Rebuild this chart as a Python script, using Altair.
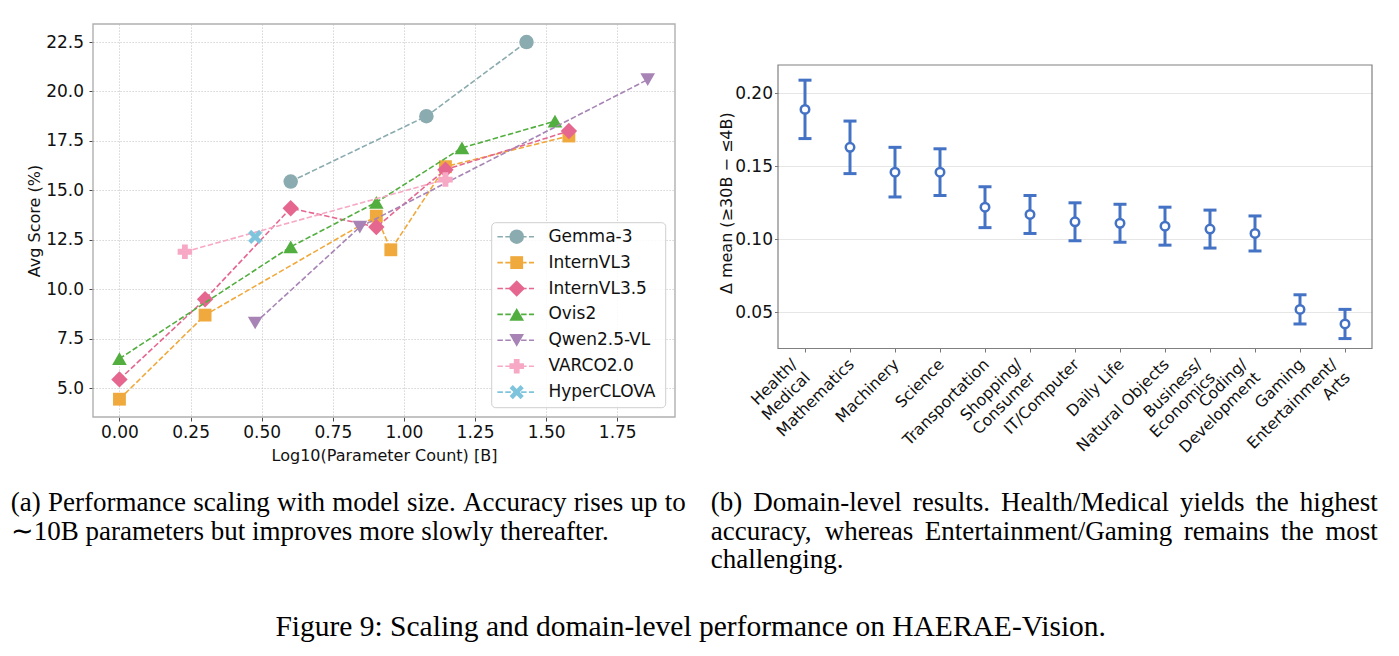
import altair as alt
import pandas as pd

# ------------------------------------------------------------------ data (left panel)
models = ["Gemma-3", "InternVL3", "InternVL3.5", "Ovis2", "Qwen2.5-VL", "VARCO2.0", "HyperCLOVA"]

gemma3_x = [0.602, 1.079, 1.431]
gemma3_y = [15.45, 18.75, 22.5]
internvl3_x = [0.0, 0.301, 0.903, 0.954, 1.146, 1.580]
internvl3_y = [4.45, 8.7, 13.7, 12.0, 16.2, 17.75]
internvl35_x = [0.0, 0.301, 0.602, 0.903, 1.146, 1.580]
internvl35_y = [5.45, 9.5, 14.1, 13.15, 16.05, 18.0]
ovis2_x = [0.0, 0.602, 0.903, 1.204, 1.531]
ovis2_y = [6.5, 12.15, 14.4, 17.15, 18.5]
qwen25vl_x = [0.477, 0.845, 1.857]
qwen25vl_y = [8.3, 13.15, 20.6]
varco_x = [0.230, 1.146]
varco_y = [11.9, 15.55]
hyperclova_x = [0.477]
hyperclova_y = [12.65]

x_ticks = [0.0, 0.25, 0.5, 0.75, 1.0, 1.25, 1.5, 1.75]
y_ticks = [5.0, 7.5, 10.0, 12.5, 15.0, 17.5, 20.0, 22.5]

# ------------------------------------------------------------------ data (right panel)
domains = ["Health/\nMedical", "Mathematics", "Machinery", "Science", "Transportation",
           "Shopping/\nConsumer", "IT/Computer", "Daily Life", "Natural Objects",
           "Business/\nEconomics", "Coding/\nDevelopment", "Gaming", "Entertainment/\nArts"]
delta_mean = [0.189, 0.163, 0.146, 0.146, 0.122, 0.117, 0.112, 0.111, 0.109, 0.107, 0.104, 0.052, 0.042]
ci_low = [0.169, 0.145, 0.129, 0.130, 0.108, 0.104, 0.099, 0.098, 0.096, 0.094, 0.092, 0.042, 0.032]
ci_high = [0.209, 0.181, 0.163, 0.162, 0.136, 0.130, 0.125, 0.124, 0.122, 0.120, 0.116, 0.062, 0.052]
r_ticks = [0.05, 0.10, 0.15, 0.20]

# ------------------------------------------------------------------ captions
cap_a = ["(a) Performance scaling with model size. Accuracy rises up to",
         "\u223c10B parameters but improves more slowly thereafter."]
cap_b = ["(b) Domain-level results.  Health/Medical yields the highest",
         "accuracy, whereas Entertainment/Gaming remains the most",
         "challenging."]
fig_caption = "Figure 9: Scaling and domain-level performance on HAERAE-Vision."

# ------------------------------------------------------------------ styles
COLORS = ["#8aabaf", "#f0a93c", "#e5678f", "#52ae3f", "#a784b5", "#f6a8c4", "#7fc4dd"]
XPATH = "M-1,-0.55L-0.55,-1L0,-0.45L0.55,-1L1,-0.55L0.45,0L1,0.55L0.55,1L0,0.45L-0.55,1L-1,0.55L-0.45,0Z"
SHAPES = ["circle", "square", "diamond", "triangle-up", "triangle-down", "cross", XPATH]
SIZES = [210, 165, 270, 215, 215, 210, 200]
BLUE = "#4472c4"
FONT = "DejaVu Sans"
SERIF = "Liberation Serif"
INK = "#111111"

W1, H1 = 582, 393
W2, H2 = 594, 324.5
TOP2 = 41

CAP_FS = 27
FIG_FS = 29.5

TIMES = {" ": 250, "(": 333, ")": 333, ",": 250, "-": 333, ".": 250, "/": 278, ":": 278}
TIMES.update({d: 500 for d in "0123456789"})
TIMES.update(dict(zip("ABCDEFGHIJKLMNOPQRSTUVWXYZ",
                      [722, 667, 667, 722, 611, 556, 722, 722, 333, 389, 722, 611, 889, 722, 722,
                       556, 722, 667, 556, 611, 722, 722, 944, 722, 722, 611])))
TIMES.update(dict(zip("abcdefghijklmnopqrstuvwxyz",
                      [444, 500, 444, 500, 444, 333, 500, 500, 278, 278, 500, 278, 778, 500, 500,
                       500, 500, 333, 389, 278, 500, 500, 722, 500, 500, 444])))


def tw(s, fs):
    return sum(TIMES.get(c, 500) for c in s) / 1000.0 * fs


def paragraph(lines, x0, width, y0, lh, fs):
    rows = []
    for k, line in enumerate(lines):
        y = y0 + k * lh
        if k == len(lines) - 1:
            rows.append({"t": line, "px": x0, "py": y})
            continue
        words = line.split()
        ws = [tw(w, fs) for w in words]
        gap = (width - sum(ws)) / (len(words) - 1)
        x = x0
        for w, wd in zip(words, ws):
            rows.append({"t": w, "px": x, "py": y})
            x += wd + gap
    return pd.DataFrame(rows)


one = pd.DataFrame({"k": [0]})

# ------------------------------------------------------------------ left panel
xs1 = alt.Scale(domain=[-0.093, 1.953], nice=False, zero=False)
ys1 = alt.Scale(domain=[3.55, 23.41], nice=False, zero=False)

common_axis = dict(grid=True, gridColor="#bdbdbd", gridDash=[1.2, 1.8], gridWidth=0.8,
                   domain=False, tickSize=4, tickColor="#333333", tickWidth=0.9,
                   labelFont=FONT, labelFontSize=17, labelColor=INK, labelFlush=False,
                   titleFont=FONT, titleFontSize=16, titleFontWeight="normal", titleColor=INK)
ax_x1 = alt.Axis(values=x_ticks, format=".2f", title="Log10(Parameter Count) [B]",
                 labelPadding=3, titleY=30, titleBaseline="top", **common_axis)
ax_y1 = alt.Axis(values=y_ticks, format=".1f", title="Avg Score (%)", labelPadding=5.5,
                 titleX=-50.5, titleY=H1 / 2, titleAngle=270, titleAlign="center",
                 titleBaseline="bottom", **common_axis)

series = [(gemma3_x, gemma3_y), (internvl3_x, internvl3_y), (internvl35_x, internvl35_y),
          (ovis2_x, ovis2_y), (qwen25vl_x, qwen25vl_y), (varco_x, varco_y),
          (hyperclova_x, hyperclova_y)]

left_layers = []
for i, (m, (xv, yv)) in enumerate(zip(models, series)):
    d = pd.DataFrame({"x": xv, "y": yv, "model": m})
    enc = dict(x=alt.X("x:Q", scale=xs1, axis=ax_x1), y=alt.Y("y:Q", scale=ys1, axis=ax_y1))
    if len(xv) > 1:
        left_layers.append(alt.Chart(d).mark_line(color=COLORS[i], strokeDash=[5.5, 2.4],
                                                  strokeWidth=1.6).encode(**enc))
    left_layers.append(alt.Chart(d).mark_point(shape=SHAPES[i], filled=True, color=COLORS[i],
                                               size=SIZES[i], opacity=1).encode(**enc))

# legend (inside plot, lower right)
LEG_X0, LEG_X1, LEG_Y0, LEG_Y1 = 398.7, 572.7, 198.7, 383.7
LEG_ROW0, LEG_STEP = 212.7, 25.9
left_layers.append(
    alt.Chart(one).mark_rect(fill="white", fillOpacity=0.85, stroke="#cfcfcf", strokeWidth=1,
                             cornerRadius=4)
    .encode(x=alt.value(LEG_X0), x2=alt.value(LEG_X1), y=alt.value(LEG_Y0), y2=alt.value(LEG_Y1)))
for i, m in enumerate(models):
    py = LEG_ROW0 + LEG_STEP * i
    dm = pd.DataFrame({"model": [m]})
    left_layers.append(alt.Chart(dm).mark_rule(color=COLORS[i], strokeDash=[5.5, 2.4], strokeWidth=1.6)
                       .encode(x=alt.value(404.4), x2=alt.value(441), y=alt.value(py)))
    left_layers.append(alt.Chart(dm).mark_point(shape=SHAPES[i], filled=True, color=COLORS[i],
                                                size=SIZES[i], opacity=1)
                       .encode(x=alt.value(423.7), y=alt.value(py)))
    left_layers.append(alt.Chart(dm).mark_text(align="left", baseline="middle", font=FONT,
                                               fontSize=17, color=INK)
                       .encode(x=alt.value(455.4), y=alt.value(py), text="model:N"))

# frame
left_layers.append(alt.Chart(one).mark_rect(fillOpacity=0, stroke="#b0b0b0", strokeWidth=1.4)
                   .encode(x=alt.value(0), x2=alt.value(W1), y=alt.value(0), y2=alt.value(H1)))

# caption (a) and figure caption
cap_a_df = paragraph(cap_a, -82.3, 675, 487, 28.5, CAP_FS)
left_layers.append(alt.Chart(cap_a_df).mark_text(align="left", baseline="alphabetic", font=SERIF,
                                                 fontSize=CAP_FS, color="black")
                   .encode(x=alt.X("px:Q", scale=None), y=alt.Y("py:Q", scale=None), text="t:N"))
left_layers.append(alt.Chart(pd.DataFrame({"t": [fig_caption]}))
                   .mark_text(align="center", baseline="alphabetic", font=SERIF, fontSize=FIG_FS,
                              color="black")
                   .encode(x=alt.value(597.7), y=alt.value(612), text="t:N"))

left = alt.layer(*left_layers).properties(width=W1, height=H1)

# ------------------------------------------------------------------ right panel
rdf = pd.DataFrame({"domain": domains, "mean": delta_mean, "low": ci_low, "high": ci_high})
xs2 = alt.Scale(type="point", domain=domains, padding=0.6)
ys2 = alt.Scale(domain=[0.0252, 0.2194], nice=False, zero=False, range=[H2, TOP2])

ax_x2 = alt.Axis(title=None, labelAngle=315, labelAlign="right", labelBaseline="top",
                 labelExpr="split(datum.label, '\\n')",
                 labelOffset={"condition": {"test": "indexof(datum.label, '\\n') >= 0", "value": -16},
                              "value": -4},
                 labelFont=FONT, labelFontSize=15.8, labelLineHeight=18.5, labelColor=INK,
                 labelPadding=4.5, labelOverlap=False, labelLimit=0,
                 tickSize=3.5, tickColor="#666666", tickWidth=0.9, domain=False, grid=False)
ax_y2 = alt.Axis(values=r_ticks, format=".2f", title="\u0394 mean (\u226530B \u2212 \u22644B)",
                 grid=True, gridColor="#e6e6e6", gridWidth=1, domain=False,
                 tickSize=3.5, tickColor="#666666", tickWidth=0.9, labelPadding=2,
                 labelFont=FONT, labelFontSize=17, labelColor=INK,
                 titleFont=FONT, titleFontSize=16, titleFontWeight="normal", titleColor=INK,
                 titleX=-44, titleY=178.7, titleAngle=270, titleAlign="center",
                 titleBaseline="bottom")

ex = alt.X("domain:N", scale=xs2, sort=domains, axis=ax_x2)
bars = alt.Chart(rdf).mark_rule(color=BLUE, strokeWidth=3).encode(
    x=ex, y=alt.Y("low:Q", scale=ys2, axis=ax_y2), y2="high:Q")
cap_lo = alt.Chart(rdf).mark_tick(color=BLUE, thickness=3, size=13, opacity=1).encode(
    x=ex, y=alt.Y("low:Q", scale=ys2, axis=ax_y2))
cap_hi = alt.Chart(rdf).mark_tick(color=BLUE, thickness=3, size=13, opacity=1).encode(
    x=ex, y=alt.Y("high:Q", scale=ys2, axis=ax_y2))
pts = alt.Chart(rdf).mark_point(shape="circle", filled=True, fill="white", stroke=BLUE,
                                strokeWidth=2.5, size=72, opacity=1).encode(
    x=ex, y=alt.Y("mean:Q", scale=ys2, axis=ax_y2))
frame2 = alt.Chart(one).mark_rect(fillOpacity=0, stroke="#808080", strokeWidth=1.2).encode(
    x=alt.value(0), x2=alt.value(W2), y=alt.value(TOP2), y2=alt.value(H2))

cap_b_df = paragraph(cap_b, -67.3, 667, 487, 28.5, CAP_FS)
cap_b_layer = alt.Chart(cap_b_df).mark_text(align="left", baseline="alphabetic", font=SERIF,
                                            fontSize=CAP_FS, color="black").encode(
    x=alt.X("px:Q", scale=None), y=alt.Y("py:Q", scale=None), text="t:N")

right = alt.layer(bars, cap_lo, cap_hi, pts, frame2, cap_b_layer).properties(width=W2, height=H2)

chart = (alt.hconcat(left, right, spacing=103, bounds="flush")
         .properties(padding={"left": 10, "top": 23, "right": 10, "bottom": 5})
         .configure_view(stroke=None))

chart.save("out.html", embed_options={"renderer": "svg", "actions": False})
